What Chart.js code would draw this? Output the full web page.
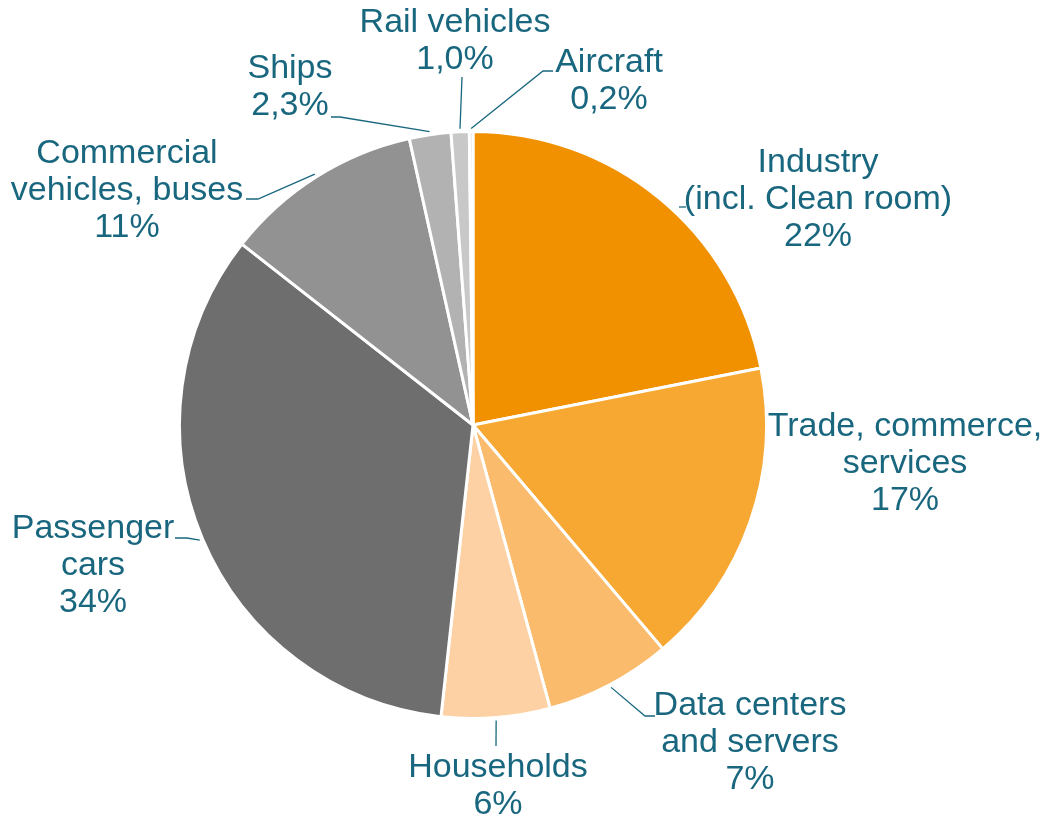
<!DOCTYPE html>
<html>
<head>
<meta charset="utf-8">
<title>Final energy use by sector</title>
<script src="https://cdn.jsdelivr.net/npm/chart.js@4/dist/chart.umd.min.js"></script>
<style>
  html, body { margin: 0; padding: 0; background: #fff; }
  canvas { display: block; }
</style>
</head>
<body>
<canvas id="sectorPie" width="1046" height="819"></canvas>
<script>
const sectorLabels = [
  ["Industry", "(incl. Clean room)"],
  ["Trade, commerce,", "services"],
  ["Data centers", "and servers"],
  ["Households"],
  ["Passenger", "cars"],
  ["Commercial", "vehicles, buses"],
  ["Ships"],
  ["Rail vehicles"],
  ["Aircraft"],
];
const sectorShares = [22, 17, 7, 6, 34, 11, 2.3, 1.0, 0.2];
const sectorColors = [
  "#f29100", "#f7a833", "#fbbb6c", "#fdd1a3",
  "#6e6e6e", "#929292", "#b2b2b2", "#c8c8c8", "#dadada",
];

// where each label block sits (center x, first baseline) and its leader line
const labelLayout = [
  { x: 818, y: 172, leader: [[679, 207], [686, 207]], fromArc: false },
  { x: 905, y: 436, leader: null },
  { x: 750, y: 715, leader: [[645, 716], [655, 716]], fromArc: true },
  { x: 498, y: 777, leader: [[496, 746]], fromArc: true },
  { x: 93, y: 538, leader: [[187, 538], [175, 538]], fromArc: true },
  { x: 127, y: 163, leader: [[258, 199], [246, 199]], fromArc: true },
  { x: 290, y: 78, leader: [[340, 117], [331, 117]], fromArc: true },
  { x: 455, y: 32, leader: [[462, 77]], fromArc: true },
  { x: 609, y: 72, leader: [[543, 71], [553, 71]], fromArc: true },
];

const TEXT_COLOR = "#19677f";
const LINE_HEIGHT = 37;

function formatShare(v) {
  return v >= 5 ? `${Math.round(v)}%` : `${v.toFixed(1).replace(".", ",")}%`;
}

const pieLabels = {
  id: "pieLabels",
  afterDraw(chart) {
    const { ctx } = chart;
    const meta = chart.getDatasetMeta(0);
    ctx.save();
    ctx.fillStyle = TEXT_COLOR;
    ctx.strokeStyle = TEXT_COLOR;
    ctx.lineWidth = 1.3;
    ctx.font = '34px "Liberation Sans", Arial, sans-serif';
    ctx.textAlign = "center";
    ctx.textBaseline = "alphabetic";

    meta.data.forEach((arc, i) => {
      const layout = labelLayout[i];
      const { x, y, startAngle, endAngle, outerRadius } = arc.getProps(
        ["x", "y", "startAngle", "endAngle", "outerRadius"], true);

      if (layout.leader) {
        const pts = layout.leader.slice();
        if (layout.fromArc) {
          const mid = (startAngle + endAngle) / 2;
          const r = outerRadius + 3;
          pts.unshift([x + Math.cos(mid) * r, y + Math.sin(mid) * r]);
        }
        ctx.beginPath();
        ctx.moveTo(pts[0][0], pts[0][1]);
        pts.slice(1).forEach((p) => ctx.lineTo(p[0], p[1]));
        ctx.stroke();
      }

      const lines = [...sectorLabels[i], formatShare(sectorShares[i])];
      lines.forEach((line, k) => {
        ctx.fillText(line, layout.x, layout.y + k * LINE_HEIGHT);
      });
    });
    ctx.restore();
  },
};

new Chart(document.getElementById("sectorPie"), {
  type: "pie",
  data: {
    labels: sectorLabels.map((l) => l.join(" ")),
    datasets: [
      {
        data: sectorShares,
        backgroundColor: sectorColors,
        borderColor: "#ffffff",
        borderWidth: 3,
      },
    ],
  },
  options: {
    responsive: false,
    animation: false,
    layout: { padding: { top: 130, bottom: 99, left: 178, right: 278 } },
    plugins: {
      legend: { display: false },
      tooltip: { enabled: false },
    },
  },
  plugins: [pieLabels],
});
</script>
</body>
</html>
